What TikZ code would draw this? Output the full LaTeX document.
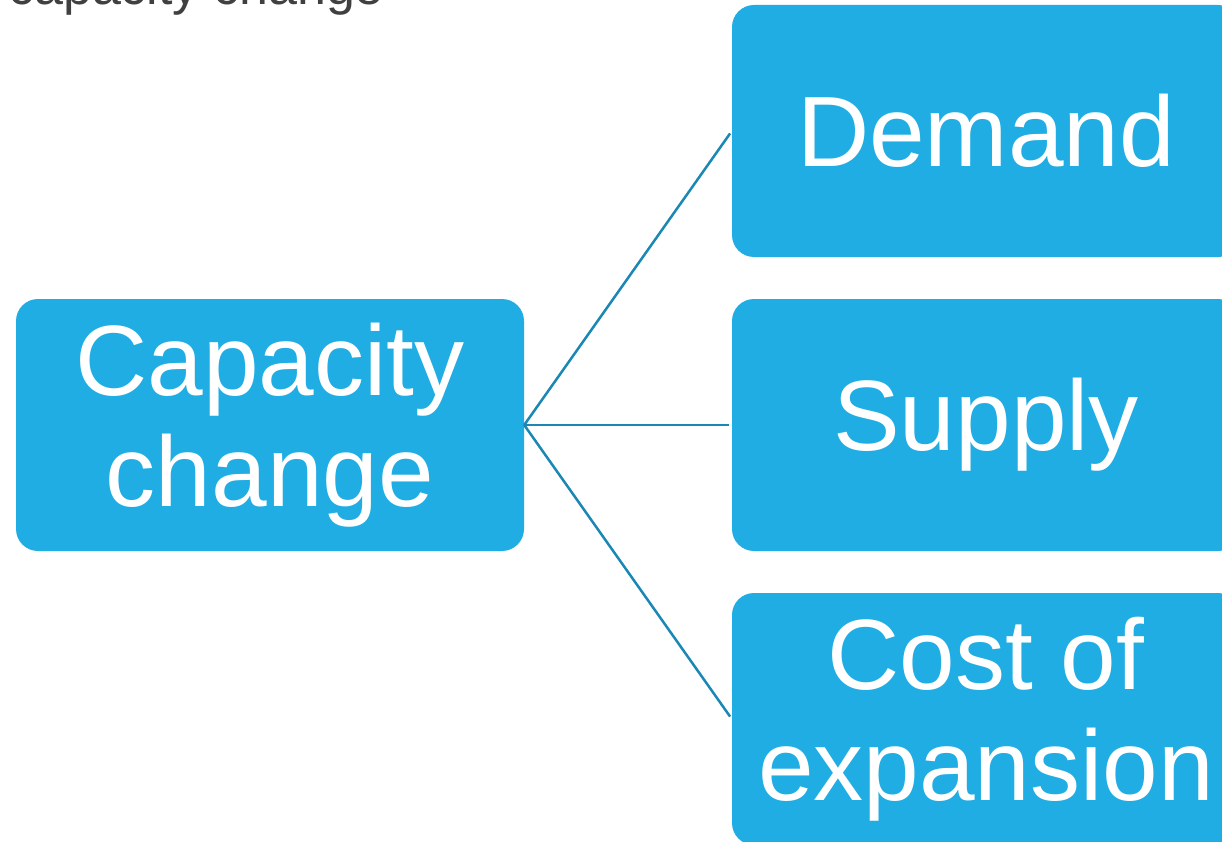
\documentclass[tikz,border=0pt]{standalone}
\usepackage{fontspec}
\setmainfont{Liberation Sans}
\definecolor{boxblue}{HTML}{1FADE4}
\definecolor{linkblue}{HTML}{1A87B5}
\definecolor{titlegray}{HTML}{404040}
\tikzset{
  box/.style={fill=boxblue, rounded corners=22pt, minimum width=508pt, minimum height=252pt,
    inner sep=0pt, text=white, align=center, font=\fontsize{100}{111}\selectfont},
  conn/.style={draw=linkblue, line width=2.5pt, shorten >=3pt}
}
\begin{document}
\begin{tikzpicture}[x=1pt,y=-1pt]
\useasboundingbox (0,0) rectangle (1222,842);
\clip (0,0) rectangle (1222,842);
\node[anchor=base west, text=titlegray, inner sep=0pt, font=\fontsize{52}{60}\selectfont] (title) at (8,5) {capacity change};
\node[box] (cap) at (270,425) {Capacity\\change};
\node[box] (dem) at (986,131) {Demand};
\node[box] (sup) at (986,425) {Supply};
\node[box] (cost) at (986,719) {Cost of\\expansion};
\draw[conn] (cap.east) -- (dem.west);
\draw[conn] (cap.east) -- (sup.west);
\draw[conn] (cap.east) -- (cost.west);
\end{tikzpicture}
\end{document}
